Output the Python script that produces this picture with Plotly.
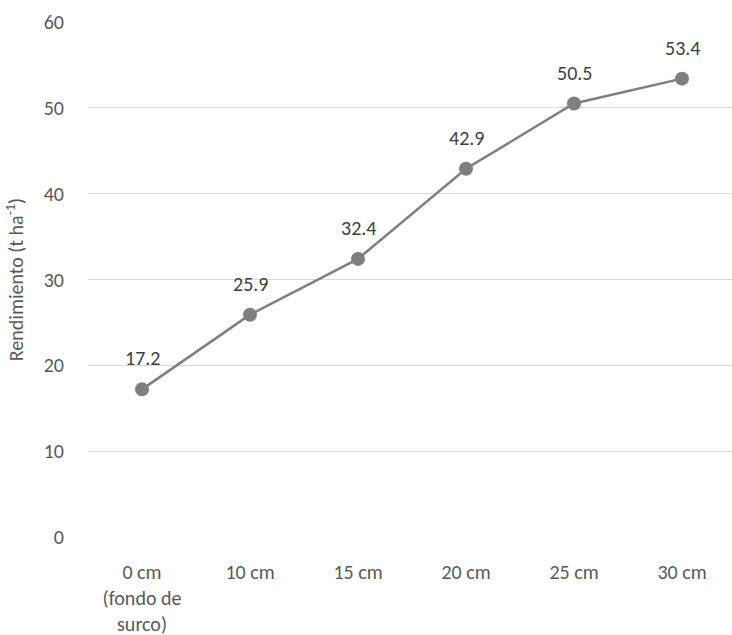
import plotly.graph_objects as go

categories = ["0 cm<br>(fondo de<br>surco)", "10 cm", "15 cm", "20 cm", "25 cm", "30 cm"]
values = [17.2, 25.9, 32.4, 42.9, 50.5, 53.4]
y_ticks = [0, 10, 20, 30, 40, 50, 60]

font_family = "Carlito, Calibri, Lato, 'Open Sans', sans-serif"

fig = go.Figure()
fig.add_trace(go.Scatter(
    x=categories, y=values, mode="lines+markers",
    line=dict(color="#7f7f7f", width=2.5),
    marker=dict(color="#7f7f7f", size=14),
    hoverinfo="skip", showlegend=False,
))

for c, v in zip(categories, values):
    fig.add_annotation(x=c, y=v, text=f"{v:.1f}", showarrow=False,
                       yshift=31, font=dict(size=20, color="#404040", family=font_family))

fig.update_layout(
    width=736, height=635,
    margin=dict(l=88, r=0, t=22, b=98),
    paper_bgcolor="white", plot_bgcolor="white",
    font=dict(family=font_family, size=20, color="#595959"),
    xaxis=dict(
        range=[-0.5, len(categories) - 0.5],
        showgrid=False, showline=False, zeroline=False, ticks="",
        ticklabelstandoff=21, automargin=False,
        tickfont=dict(size=20, color="#595959"),
    ),
    yaxis=dict(
        range=[0, 60], tickvals=y_ticks, showgrid=True, gridcolor="#d9d9d9",
        gridwidth=1, zeroline=False, showline=False, ticks="",
        ticklabelstandoff=23, automargin=False,
        tickfont=dict(size=20, color="#595959"),
        title=dict(text="Rendimiento (t ha<sup>-1</sup>)", standoff=14,
                   font=dict(size=20, color="#595959")),
    ),
)

fig.write_html(
    "out.html",
    config={"displayModeBar": False},
    post_script="document.body.style.margin='0';document.body.style.overflow='hidden';",
)
